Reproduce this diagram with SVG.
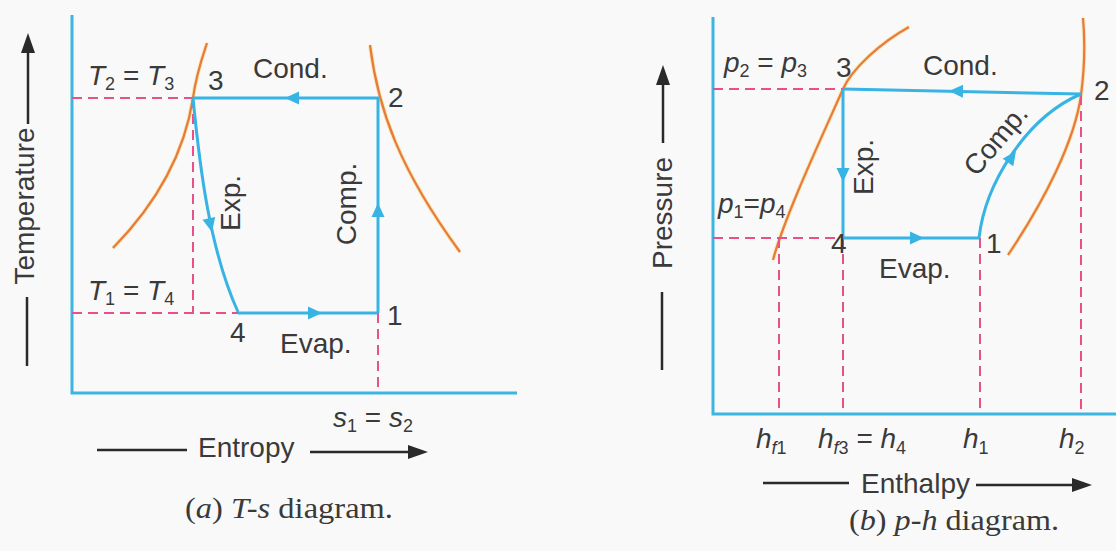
<svg xmlns="http://www.w3.org/2000/svg" xmlns:xlink="http://www.w3.org/1999/xlink" width="1116" height="551" viewBox="0 0 1116 551">
<defs>
<style>
.ax{stroke:#3cb6e0;stroke-width:3;fill:none}
.cy{stroke:#38b4e4;stroke-width:3;fill:none}
.pk{stroke:#e8508a;stroke-width:2;fill:none;stroke-dasharray:10 6}
.sat{stroke:#e87a3c;stroke-width:2.2;fill:none}
.satg{stroke:#f3d36a;stroke-width:4;fill:none;opacity:0.5}
.bl{stroke:#2a2a2a;stroke-width:2.5;fill:none}
.ah{fill:#38b4e4}
.bh{fill:#2a2a2a}
text{font-family:"Liberation Sans",Arial,sans-serif;font-size:28px;fill:#3a3a3a}
.it{font-style:italic}
.sb{font-size:18px}
.cap{font-family:"Liberation Serif","Times New Roman",serif;font-size:29px}
</style>
<path id="arr" d="M0,0 L-14,-6.5 L-14,6.5 Z"/>
<path id="barr" d="M0,0 L-20,-7 L-20,7 Z"/>
</defs>
<rect x="0" y="0" width="1116" height="551" fill="#f9f9f9"/>

<!-- T-s diagram -->
<g id="ts-axes">
<polyline class="ax" points="72,15 72,393 517,393"/>
</g>
<g id="ts-saturation">
<path class="satg" d="M113,248 C160,200 185,150 193,98 C196,75 202,58 207,43"/>
<path class="sat" d="M113,248 C160,200 185,150 193,98 C196,75 202,58 207,43"/>
<path class="satg" d="M370,45 C378,110 400,170 460,252"/>
<path class="sat" d="M370,45 C378,110 400,170 460,252"/>
</g>
<g id="ts-dashed">
<line class="pk" x1="72" y1="98" x2="193" y2="98"/>
<line class="pk" x1="72" y1="313" x2="238" y2="313"/>
<line class="pk" x1="193" y1="98" x2="193" y2="313"/>
<line class="pk" x1="378" y1="313" x2="378" y2="393"/>
</g>
<g id="ts-connectors">
<line class="cy" x1="379" y1="98" x2="193" y2="98"/>
<line class="cy" x1="378" y1="313" x2="378" y2="98"/>
<line class="cy" x1="238" y1="313" x2="378" y2="313"/>
<path class="cy" d="M193,98 C200,170 210,250 238,312"/>
<use xlink:href="#arr" class="ah" transform="translate(285,98) rotate(180)"/>
<use xlink:href="#arr" class="ah" transform="translate(378,203) rotate(-90)"/>
<use xlink:href="#arr" class="ah" transform="translate(322,313)"/>
<use xlink:href="#arr" class="ah" transform="translate(212,232) rotate(77)"/>
</g>
<g id="ts-labels">
<text x="88" y="85"><tspan class="it">T</tspan><tspan class="sb" dy="5">2</tspan><tspan dy="-5"> = </tspan><tspan class="it">T</tspan><tspan class="sb" dy="5">3</tspan></text>
<text x="208" y="90">3</text>
<text x="253" y="78">Cond.</text>
<text x="388" y="107">2</text>
<text transform="translate(240,203) rotate(-90)" text-anchor="middle">Exp.</text>
<text transform="translate(356,204) rotate(-90)" text-anchor="middle">Comp.</text>
<text x="88" y="300"><tspan class="it">T</tspan><tspan class="sb" dy="5">1</tspan><tspan dy="-5"> = </tspan><tspan class="it">T</tspan><tspan class="sb" dy="5">4</tspan></text>
<text x="230" y="342">4</text>
<text x="280" y="353">Evap.</text>
<text x="387" y="325">1</text>
<text x="333" y="427"><tspan class="it">s</tspan><tspan class="sb" dy="5">1</tspan><tspan dy="-5"> = </tspan><tspan class="it">s</tspan><tspan class="sb" dy="5">2</tspan></text>
<text x="198" y="457">Entropy</text>
<line class="bl" x1="97" y1="450" x2="187" y2="450"/>
<line class="bl" x1="310" y1="452" x2="412" y2="452"/>
<use xlink:href="#barr" class="bh" transform="translate(428,452)"/>
<text transform="translate(34,206) rotate(-90)" text-anchor="middle">Temperature</text>
<line class="bl" x1="28" y1="50" x2="28" y2="124"/>
<use xlink:href="#barr" class="bh" transform="translate(28,33) rotate(-90)"/>
<line class="bl" x1="27" y1="297" x2="27" y2="366"/>
<text class="cap" x="185" y="518" textLength="208" lengthAdjust="spacingAndGlyphs">(<tspan class="it">a</tspan>) <tspan class="it">T-s</tspan> diagram.</text>
</g>

<!-- p-h diagram -->
<g id="ph-axes">
<polyline class="ax" points="713,17 713,414 1116,414"/>
</g>
<g id="ph-saturation">
<path class="satg" d="M773,260 C785,215 825,130 843,89 C852,69 880,43 909,27"/>
<path class="sat" d="M773,260 C785,215 825,130 843,89 C852,69 880,43 909,27"/>
<path class="satg" d="M1008,255 C1045,200 1075,140 1081,95 C1085,65 1085,40 1083,18"/>
<path class="sat" d="M1008,255 C1045,200 1075,140 1081,95 C1085,65 1085,40 1083,18"/>
</g>
<g id="ph-dashed">
<line class="pk" x1="713" y1="89" x2="843" y2="89"/>
<line class="pk" x1="713" y1="238" x2="843" y2="238"/>
<line class="pk" x1="779" y1="238" x2="779" y2="414"/>
<line class="pk" x1="843" y1="238" x2="843" y2="414"/>
<line class="pk" x1="980" y1="238" x2="980" y2="414"/>
<line class="pk" x1="1081" y1="95" x2="1081" y2="414"/>
</g>
<g id="ph-connectors">
<line class="cy" x1="1081" y1="94" x2="843" y2="89"/>
<line class="cy" x1="843" y1="89" x2="843" y2="238"/>
<line class="cy" x1="843" y1="238" x2="979" y2="238"/>
<path class="cy" d="M979,238 C985,185 1025,118 1081,94"/>
<use xlink:href="#arr" class="ah" transform="translate(949,91) rotate(181)"/>
<use xlink:href="#arr" class="ah" transform="translate(843,182) rotate(90)"/>
<use xlink:href="#arr" class="ah" transform="translate(924,238)"/>
<use xlink:href="#arr" class="ah" transform="translate(1016,151) rotate(-55)"/>
</g>
<g id="ph-labels">
<text x="724" y="72"><tspan class="it">p</tspan><tspan class="sb" dy="5">2</tspan><tspan dy="-5"> = </tspan><tspan class="it">p</tspan><tspan class="sb" dy="5">3</tspan></text>
<text x="836" y="77">3</text>
<text x="923" y="75">Cond.</text>
<text x="1094" y="100">2</text>
<text transform="translate(873,167) rotate(-90)" text-anchor="middle">Exp.</text>
<text transform="translate(1003,146) rotate(-50)" text-anchor="middle">Comp.</text>
<text x="718" y="213"><tspan class="it">p</tspan><tspan class="sb" dy="5">1</tspan><tspan dy="-5">=</tspan><tspan class="it">p</tspan><tspan class="sb" dy="5">4</tspan></text>
<text x="831" y="253">4</text>
<text x="986" y="253">1</text>
<text x="879" y="278">Evap.</text>
<text transform="translate(672,213) rotate(-90)" text-anchor="middle">Pressure</text>
<line class="bl" x1="663" y1="82" x2="663" y2="143"/>
<use xlink:href="#barr" class="bh" transform="translate(663,65) rotate(-90)"/>
<line class="bl" x1="662" y1="292" x2="662" y2="370"/>
<text x="756" y="448"><tspan class="it">h</tspan><tspan class="sb it" dy="6">f</tspan><tspan class="sb">1</tspan></text>
<text x="818" y="448"><tspan class="it">h</tspan><tspan class="sb it" dy="6">f</tspan><tspan class="sb">3</tspan><tspan dy="-6"> = </tspan><tspan class="it">h</tspan><tspan class="sb" dy="6">4</tspan></text>
<text x="963" y="448"><tspan class="it">h</tspan><tspan class="sb" dy="6">1</tspan></text>
<text x="1059" y="448"><tspan class="it">h</tspan><tspan class="sb" dy="6">2</tspan></text>
<text x="861" y="493">Enthalpy</text>
<line class="bl" x1="763" y1="483" x2="849" y2="483"/>
<line class="bl" x1="976" y1="485" x2="1075" y2="485"/>
<use xlink:href="#barr" class="bh" transform="translate(1092,485)"/>
<text class="cap" x="849" y="530" textLength="210" lengthAdjust="spacingAndGlyphs">(<tspan class="it">b</tspan>) <tspan class="it">p-h</tspan> diagram.</text>
</g>
</svg>
